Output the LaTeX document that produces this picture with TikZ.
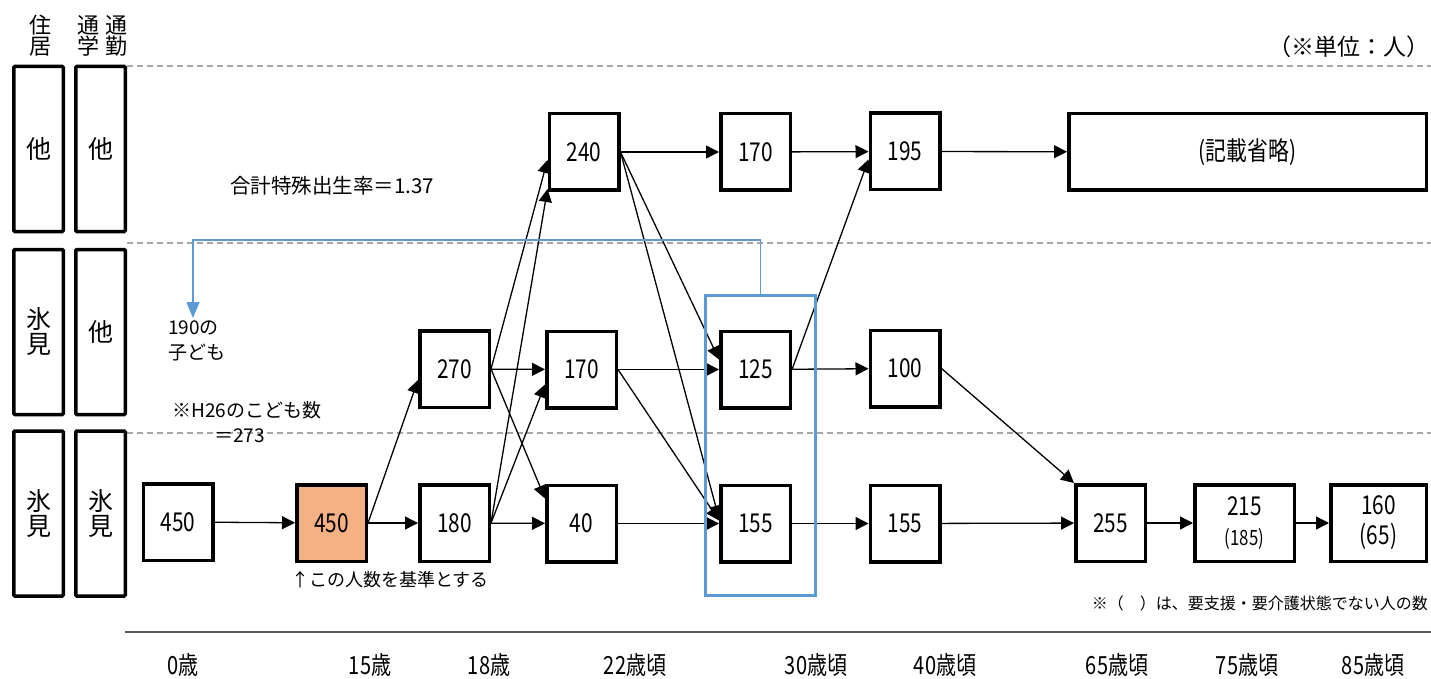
\documentclass[tikz,border=0pt]{standalone}
\usepackage{fontspec}
\setmainfont{Noto Sans CJK JP}
\newfontfamily\narrowfont[FakeStretch=0.8]{Noto Sans CJK JP}
\usetikzlibrary{arrows.meta}
\definecolor{focusblue}{HTML}{5B9BD5}
\definecolor{basefill}{HTML}{F4B183}

\begin{document}
\begin{tikzpicture}[x=1pt, y=-1pt,
    numbox/.style={draw, line width=3.5pt, fill=white, minimum width=69.5pt,
      minimum height=76.5pt, inner sep=0pt, align=center,
      font=\narrowfont\fontsize{26}{30}\selectfont},
    sidebox/.style={draw, line width=3.5pt, rounded corners=1pt, minimum width=49.5pt,
      minimum height=165pt, inner sep=0pt, align=center, font=\fontsize{25}{25}\selectfont},
    headtext/.style={inner sep=0pt, align=center, font=\fontsize{22}{21}\selectfont},
    flow/.style={-{Triangle[length=13pt,width=13pt]}, line width=1.3pt},
    guide/.style={dash pattern=on 6pt off 4pt, line width=1.3pt, draw=gray!70},
    note/.style={inner sep=0pt, font=\fontsize{19}{25}\selectfont},
    agelabel/.style={inner sep=0pt, font=\narrowfont\fontsize{25}{25}\selectfont}]

    \useasboundingbox (0,0) rectangle (1431,679);

    % row guides and age axis
    \draw[guide] (127,66) -- (1431,66);
    \draw[guide] (127,243) -- (1431,243);
    \draw[guide] (127,433) -- (1431,433);
    \draw[line width=2pt, draw=black!65] (125,632) -- (1431,632);

    % left legend
    \node[headtext] (hdres)  at (40,36)  {住\\居};
    \node[headtext] (hdcom1) at (88,36)  {通\\学};
    \node[headtext] (hdcom2) at (116,36) {通\\勤};
    \node[sidebox] (res1) at (38.5,149)   {他};
    \node[sidebox] (com1) at (100.5,149)  {他};
    \node[sidebox] (res2) at (38.5,332)   {氷\\見};
    \node[sidebox] (com2) at (100.5,332)  {他};
    \node[sidebox] (res3) at (38.5,513.5) {氷\\見};
    \node[sidebox] (com3) at (100.5,513.5) {氷\\見};

    % population boxes
    \node[numbox] (n0)  at (178,522)     {450};
    \node[numbox, fill=basefill] (n15) at (331.5,523) {450};
    \node[numbox] (n18a) at (454.5,523)  {180};
    \node[numbox] (n18b) at (454.5,369)  {270};
    \node[numbox] (n22a) at (584,152)    {240};
    \node[numbox] (n22b) at (581.5,369.5) {170};
    \node[numbox] (n22c) at (581.5,523.5) {40};
    \node[numbox] (n30a) at (755.5,152)  {170};
    \node[numbox] (n30b) at (755.5,369.5) {125};
    \node[numbox] (n30c) at (755.5,523.5) {155};
    \node[numbox] (n40a) at (905,151.5)  {195};
    \node[numbox] (n40b) at (905,368.5)  {100};
    \node[numbox] (n40c) at (905,523.5)  {155};
    \node[numbox, minimum width=357.5pt] (nrest) at (1247.5,152) {(記載省略)};
    \node[numbox] (n65) at (1110.5,523)  {255};
    \node[numbox, minimum width=99.5pt] (n75) at (1244.5,523)
        {215\\{\fontsize{21}{20}\selectfont(185)}};
    \node[numbox, minimum width=95.5pt] (n85) at (1378.5,523) {160\\(65)};

    % flows
    \draw[flow] (n0) -- (n15);
    \draw[flow] (n15) -- (n18a);
    \draw[flow] (n15.east) -- ([yshift=-11pt]n18b.west);
    \draw[flow] (n18a) -- (n22c);
    \draw[flow] (n18a.east) -- ([yshift=-15pt]n22b.west);
    \draw[flow] (n18a.east) -- ([yshift=3pt]n22a.south west);
    \draw[flow] (n18b) -- (n22b);
    \draw[flow] (n18b.east) -- ([yshift=-8pt]n22a.west);
    \draw[flow] (n18b.east) -- ([yshift=25pt]n22c.west);
    \draw[flow] (n22a) -- (n30a);
    \draw[flow] (n22a.east) -- ([yshift=10pt]n30b.west);
    \draw[flow] (n22a.east) -- ([yshift=5pt]n30c.west);
    \draw[flow] (n22b) -- (n30b);
    \draw[flow] (n22b.east) -- ([yshift=3pt]n30c.west);
    \draw[flow] (n22c) -- (n30c);
    \draw[flow] (n30a) -- (n40a);
    \draw[flow] (n30b) -- (n40b);
    \draw[flow] (n30b.east) -- ([yshift=-8pt]n40a.west);
    \draw[flow] (n30c) -- (n40c);
    \draw[flow] (n40a) -- (nrest);
    \draw[flow] (n40b.east) -- (n65.north west);
    \draw[flow] (n40c) -- (n65);
    \draw[flow] (n65) -- (n75);
    \draw[flow] (n75) -- (n85);

    % 30s highlight and children
    \node[draw=focusblue, line width=3pt, minimum width=110pt, minimum height=300pt]
        (focus) at (760.5,445.5) {};
    \coordinate (kidtip) at (193,318);
    \draw[draw=focusblue, line width=1.3pt, -{Triangle[length=16pt,width=13pt]}]
        (focus.north) -- ++(0,-54) -| (kidtip);
    \node[note, anchor=north west, align=left] (kids) at (168,321) {190の\\子ども};

    % notes
    \node[note, font=\fontsize{20.5}{22}\selectfont, anchor=west] (tfr) at (230,186)
        {合計特殊出生率＝1.37};
    \node[note, anchor=north west, align=left] (h26) at (172,401)
        {※H26のこども数\\\hspace{2.2em}＝273};
    \node[note, font=\fontsize{18}{25}\selectfont, anchor=west] (basis) at (291,580)
        {↑この人数を基準とする};
    \node[note, font=\fontsize{23}{25}\selectfont, anchor=east] (unit) at (1430,47)
        {（※単位：人）};
    \node[note, font=\fontsize{16}{18}\selectfont, anchor=east] (caveat) at (1428,603)
        {※（　）は、要支援・要介護状態でない人の数};

    % ages
    \node[agelabel] (age0)  at (183,665)  {0歳};
    \node[agelabel] (age15) at (370,665)  {15歳};
    \node[agelabel] (age18) at (489,665)  {18歳};
    \node[agelabel] (age22) at (635,665)  {22歳頃};
    \node[agelabel] (age30) at (816,665)  {30歳頃};
    \node[agelabel] (age40) at (945,665)  {40歳頃};
    \node[agelabel] (age65) at (1117,665) {65歳頃};
    \node[agelabel] (age75) at (1247,665) {75歳頃};
    \node[agelabel] (age85) at (1373,665) {85歳頃};
\end{tikzpicture}
\end{document}
